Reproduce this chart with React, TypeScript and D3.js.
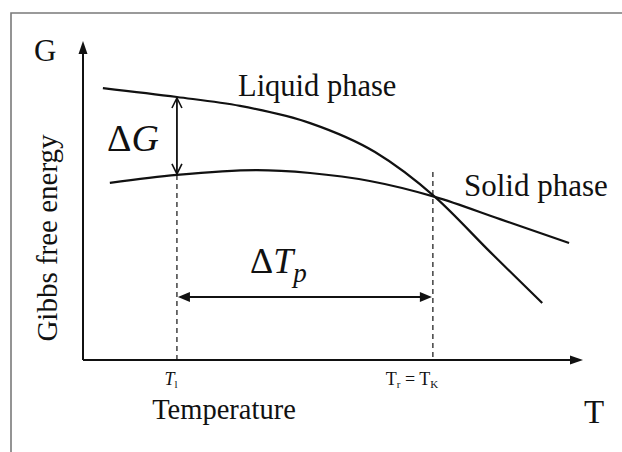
import React from "react";
import * as d3 from "d3";

// Data (T in arbitrary units 0-100, G in arbitrary units 0-100)
const liquidT = [4.0, 18.9, 31.6, 45.7, 58.75, 70.8, 81.9, 92.4];
const liquidG = [85.5, 82.7, 79.9, 74.5, 65.4, 51.3, 34.0, 17.9];
const solidT = [5.4, 18.9, 35.0, 45.7, 57.7, 70.8, 83.9, 97.8];
const solidG = [55.7, 58.2, 59.7, 58.8, 56.3, 51.3, 44.3, 36.8];
const T1 = 18.9;
const TK = 70.4;

const W = 622;
const H = 452;
const FONT = "'Liberation Serif', 'Times New Roman', 'DejaVu Serif', serif";
const ts: React.CSSProperties = { fontFamily: FONT };

export default function App() {
  const x = d3.scaleLinear().domain([0, 100]).range([83, 580]);
  const y = d3.scaleLinear().domain([0, 100]).range([360, 42]);

  const line = d3
    .line<[number, number]>()
    .x((d) => x(d[0]))
    .y((d) => y(d[1]))
    .curve(d3.curveMonotoneX);

  const liquid = liquidT.map((t, i) => [t, liquidG[i]] as [number, number]);
  const solid = solidT.map((t, i) => [t, solidG[i]] as [number, number]);

  const valAt = (ts_: number[], gs: number[], t: number) => {
    const i = d3.bisectLeft(ts_, t);
    if (ts_[i] === t) return gs[i];
    const t0 = ts_[i - 1], t1 = ts_[i];
    return gs[i - 1] + ((t - t0) / (t1 - t0)) * (gs[i] - gs[i - 1]);
  };

  const x0 = x(0);
  const y0 = y(0);
  const xT1 = x(T1);
  const xTK = x(TK);
  const yLiq = y(valAt(liquidT, liquidG, T1));
  const ySol = y(valAt(solidT, solidG, T1));
  const yArrow = 297;

  const head = (tx: number, ty: number, dir: "up" | "down" | "left" | "right", len = 11, half = 4.5) => {
    let pts: [number, number][] = [];
    if (dir === "up") pts = [[tx, ty], [tx - half, ty + len], [tx + half, ty + len]];
    if (dir === "down") pts = [[tx, ty], [tx - half, ty - len], [tx + half, ty - len]];
    if (dir === "left") pts = [[tx, ty], [tx + len, ty - half], [tx + len, ty + half]];
    if (dir === "right") pts = [[tx, ty], [tx - len, ty - half], [tx - len, ty + half]];
    return <polygon points={pts.map((p) => p.join(",")).join(" ")} fill="#111" />;
  };

  const openHead = (tx: number, ty: number, dir: "up" | "down") => {
    const s = dir === "up" ? 1 : -1;
    return (
      <path
        d={`M${tx - 5},${ty + s * 10} L${tx},${ty} L${tx + 5},${ty + s * 10}`}
        fill="none"
        stroke="#111"
        strokeWidth={1.6}
      />
    );
  };

  return (
    <svg width={W} height={H} style={{ position: "absolute", left: 0, top: 0, background: "#fff" }}>
      {/* frame */}
      <path d={`M11,${H} L11,13 L${W},13`} fill="none" stroke="#7a7a7a" strokeWidth={1.6} />

      {/* axes */}
      <line x1={x0} y1={y0} x2={x0} y2={50} stroke="#111" strokeWidth={2} />
      {head(x0, 41, "up", 13, 4.5)}
      <line x1={x0} y1={y0} x2={573} y2={y0} stroke="#111" strokeWidth={2} />
      {head(583, y0, "right", 13, 4.5)}

      {/* dashed lines */}
      <line x1={xT1} y1={ySol} x2={xT1} y2={y0} stroke="#111" strokeWidth={1.2} strokeDasharray="5,4" />
      <line x1={xTK} y1={172} x2={xTK} y2={y0} stroke="#111" strokeWidth={1.2} strokeDasharray="5,4" />

      {/* curves */}
      <path d={line(liquid) || ""} fill="none" stroke="#111" strokeWidth={2.2} />
      <path d={line(solid) || ""} fill="none" stroke="#111" strokeWidth={2.2} />

      {/* ΔG arrow */}
      <line x1={xT1} y1={yLiq + 1} x2={xT1} y2={ySol - 1} stroke="#111" strokeWidth={1.8} />
      {openHead(xT1, yLiq + 1, "up")}
      {openHead(xT1, ySol - 1, "down")}

      {/* ΔTp arrow */}
      <line x1={xT1 + 8} y1={yArrow} x2={xTK - 8} y2={yArrow} stroke="#111" strokeWidth={2} />
      {head(xT1 + 1, yArrow, "left", 12, 5)}
      {head(xTK - 1, yArrow, "right", 12, 5)}

      {/* labels */}
      <text style={ts} x={34} y={61} fontSize={31} fill="#111">G</text>
      <text style={ts} x={584} y={423} fontSize={33} fill="#111">T</text>
      <text style={ts} x={224} y={419} fontSize={28.5} fill="#111" textAnchor="middle">Temperature</text>
      <text style={ts} transform={`translate(57,238) rotate(-90)`} fontSize={29} fill="#111" textAnchor="middle">Gibbs free energy</text>
      <text style={ts} x={238} y={96} fontSize={30.5} fill="#111">Liquid phase</text>
      <text style={ts} x={464} y={196} fontSize={31} fill="#111">Solid phase</text>

      <text style={ts} x={107} y={151} fontSize={38} fill="#111">
        Δ<tspan fontStyle="italic">G</tspan>
      </text>
      <text style={ts} x={250} y={273} fontSize={36} fill="#111">
        Δ<tspan fontStyle="italic">T</tspan>
        <tspan fontStyle="italic" fontSize={27} dy={9}>p</tspan>
      </text>

      {/* tick labels */}
      <text style={ts} x={xT1 - 6} y={385} fontSize={18} fill="#111" textAnchor="middle">
        <tspan fontStyle="italic">T</tspan>
        <tspan fontSize={11} dy={3}>l</tspan>
      </text>
      <text style={ts} x={412} y={385} fontSize={18} fill="#111" textAnchor="middle">
        T<tspan fontSize={11} dy={3}>r</tspan>
        <tspan dy={-3}> = T</tspan>
        <tspan fontSize={11} dy={3}>K</tspan>
      </text>
    </svg>
  );
}
